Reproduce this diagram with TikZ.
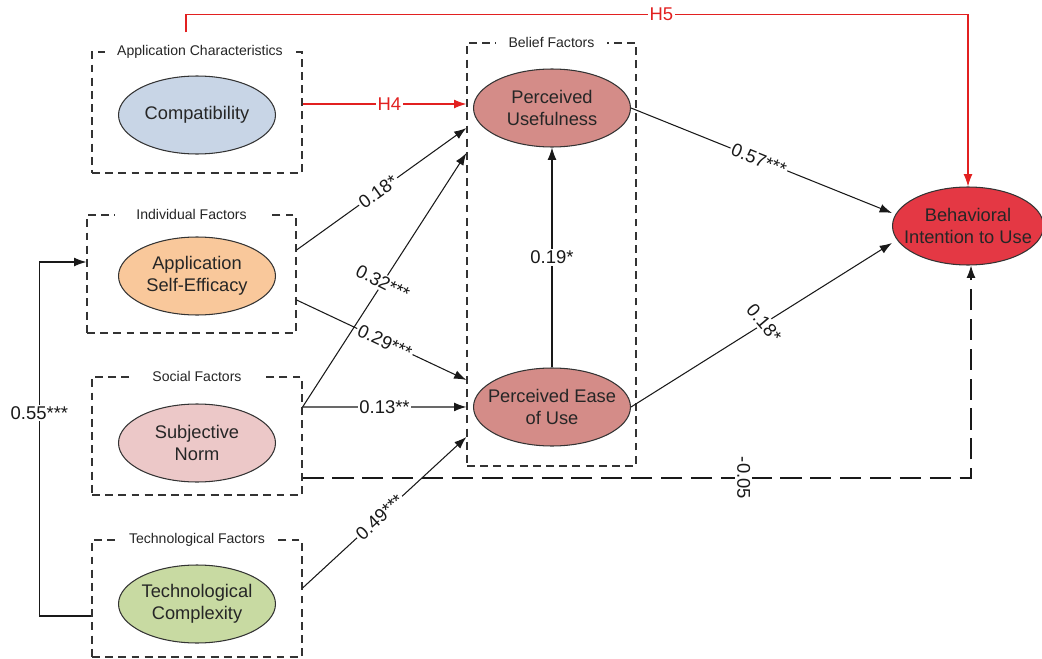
\documentclass[tikz,border=0pt]{standalone}
\usepackage{fontspec}
\setmainfont{Liberation Sans}
\usetikzlibrary{arrows.meta,shapes.geometric}

\definecolor{compblue}{RGB}{200,213,230}
\definecolor{aseorange}{RGB}{249,200,155}
\definecolor{snpink}{RGB}{236,200,200}
\definecolor{tcgreen}{RGB}{200,218,162}
\definecolor{beliefred}{RGB}{212,140,136}
\definecolor{bired}{RGB}{228,56,68}
\definecolor{hypred}{RGB}{226,32,32}

\begin{document}
\begin{tikzpicture}[x=0.02cm,y=-0.02cm,>={Latex[length=7pt,width=5pt]},
  factor/.style={ellipse,draw=black!80,line width=0.6pt,minimum width=3.14cm,minimum height=1.56cm,
    inner xsep=-1cm,inner ysep=-0.4cm,align=center,font=\fontsize{10.4}{12.5}\selectfont,text=black!85},
  groupbox/.style={draw=black!80,line width=0.7pt,dash pattern=on 4.5pt off 3pt,inner sep=0pt},
  grouptitle/.style={fill=white,inner xsep=7pt,inner ysep=1pt,font=\fontsize{8}{9.6}\selectfont,text=black!85},
  link/.style={->,line width=0.6pt,black!90},
  longdash/.style={dash pattern=on 12pt off 5pt},
  hyp/.style={->,line width=0.6pt,hypred},
  coef/.style={fill=white,inner sep=1pt,font=\fontsize{10.5}{12}\selectfont},
  hyplabel/.style={coef,text=hypred}]
  \useasboundingbox (0,0) rectangle (1042,659);

  \node[groupbox,minimum width=4.2cm,minimum height=2.42cm] (appbox) at (197,112.5) {};
  \node[groupbox,minimum width=4.18cm,minimum height=2.36cm] (indbox) at (191.5,274) {};
  \node[groupbox,minimum width=4.2cm,minimum height=2.36cm] (socbox) at (197,436) {};
  \node[groupbox,minimum width=4.2cm,minimum height=2.34cm] (techbox) at (197,598.5) {};
  \node[groupbox,minimum width=3.38cm,minimum height=8.46cm] (beliefbox) at (551.5,254.5) {};

  \node[grouptitle] (apptitle) at ([xshift=0.06cm]appbox.north) {Application Characteristics};
  \node[grouptitle,inner xsep=12pt] (indtitle) at (indbox.north) {Individual Factors};
  \node[grouptitle,inner xsep=12pt] (soctitle) at (socbox.north) {Social Factors};
  \node[grouptitle] (techtitle) at (techbox.north) {Technological Factors};
  \node[grouptitle] (belieftitle) at (beliefbox.north) {Belief Factors};

  \node[factor,fill=compblue] (comp) at (197,115) {Compatibility};
  \node[factor,fill=aseorange] (ase) at (197,276) {Application\\Self-Efficacy};
  \node[factor,fill=snpink] (sn) at (197,443) {Subjective\\Norm};
  \node[factor,fill=tcgreen] (tc) at (197,604) {Technological\\Complexity};
  \node[factor,fill=beliefred] (pu) at (552,108) {Perceived\\Usefulness};
  \node[factor,fill=beliefred] (peou) at (552,407) {Perceived Ease\\of Use};
  \node[factor,fill=bired,minimum width=3.02cm] (bi) at (968,226) {Behavioral\\Intention to Use};

  \coordinate (h4s) at ([yshift=0.17cm]appbox.east);
  \draw[hyp] (h4s) -- node[hyplabel,pos=0.53]{H4} (h4s -| beliefbox.west);
  \draw[hyp] ([xshift=-0.22cm,yshift=0.38cm]appbox.north) -- ++(0,-18) -| node[hyplabel,pos=0.304]{H5} (bi.north);

  \draw[link] ([yshift=0.48cm]indbox.east) -- node[coef,sloped,pos=0.48]{0.18*} ([yshift=2.53cm]beliefbox.west);
  \draw[link] ([yshift=0.58cm]socbox.east) -- node[coef,rotate=-27,pos=0.49]{0.32***} ([yshift=2.03cm]beliefbox.west);
  \draw[link] ([yshift=-0.52cm]indbox.east) -- node[coef,sloped,pos=0.52]{0.29***} ([yshift=-2.51cm]beliefbox.west);
  \draw[link] ([yshift=0.58cm]socbox.east) -- node[coef,pos=0.5]{0.13**} ([yshift=-3.05cm]beliefbox.west);
  \draw[link] ([yshift=0.21cm]techbox.east) -- node[coef,sloped,pos=0.47]{0.49***} ([yshift=-3.65cm]beliefbox.west);
  \draw[link] (peou.north) -- node[coef]{0.19*} (pu.south);
  \draw[link] (pu.east) -- node[coef,sloped,pos=0.49]{0.57***} ([yshift=0.26cm]bi.west);
  \draw[link] (peou.east) -- node[coef,rotate=-50,pos=0.51]{0.18*} ([yshift=-0.34cm]bi.west);
  \draw[link,longdash] ([yshift=-0.84cm]socbox.east) -| node[coef,rotate=-90,pos=0.33]{-0.05} ([xshift=0.06cm]bi.south);
  \draw[link] ([yshift=-0.35cm]techbox.west) -- ++(-52,0) |- node[coef,pos=0.287]{0.55***} ([yshift=0.24cm]indbox.west);
\end{tikzpicture}
\end{document}
